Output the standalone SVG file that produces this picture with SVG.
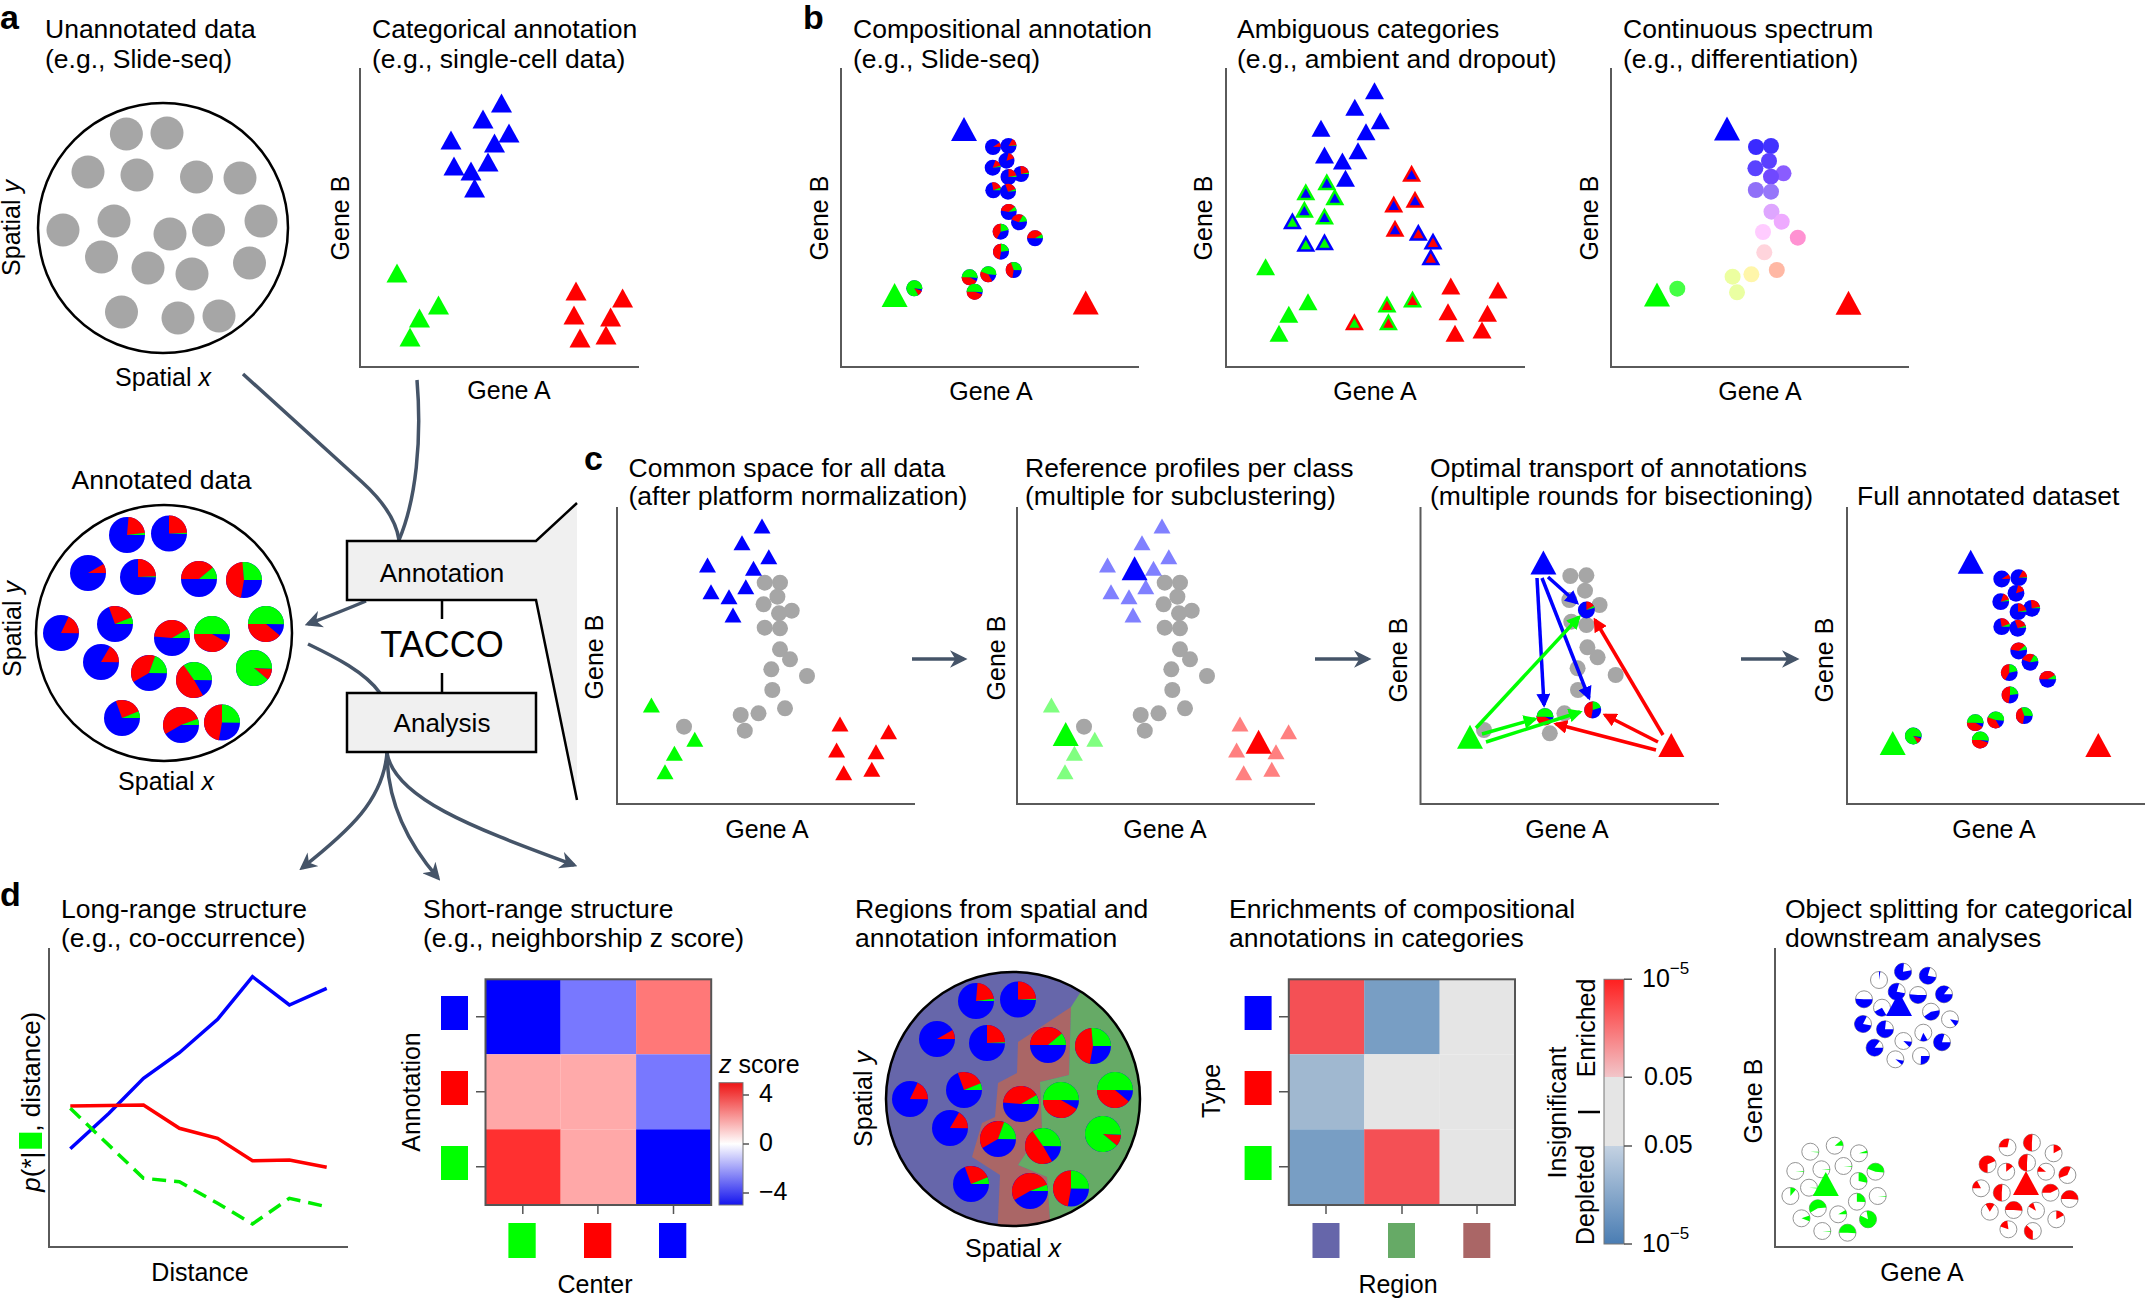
<svg xmlns="http://www.w3.org/2000/svg" xmlns:xlink="http://www.w3.org/1999/xlink" width="2145" height="1299" viewBox="0 0 2145 1299">
<style>
text{font-family:"Liberation Sans",Arial,sans-serif;fill:#000}
.t{font-size:26.5px}
.ax{font-size:25px}
.lbl{font-size:34px;font-weight:bold}
.axis{stroke:#5a5a5a;stroke-width:2;fill:none}
.B{fill:#0000ff}.R{fill:#ff0000}.G{fill:#00ff00}.gr{fill:#a6a6a6}
.wr{fill:none;stroke:#ff0000;stroke-width:10}
.wg{fill:none;stroke:#00ff00;stroke-width:10}
.wb{fill:none;stroke:#0000ff;stroke-width:10}
.wp{fill:#fff;stroke:#8c8c8c;stroke-width:1.1}
.con{fill:none;stroke:#455468;stroke-width:3.5}
.box{fill:#f0f0f0;stroke:#000;stroke-width:2.5}
.ol{fill:none;stroke:#000;stroke-width:2.5}
.tick{stroke:#555;stroke-width:1.5}
</style>
<defs>
<path id="t" d="M0,-9.5 L10.5,9.5 L-10.5,9.5 Z"/>
<path id="tm" d="M0,-8.5 L9.5,8.5 L-9.5,8.5 Z"/>
<path id="ti" d="M0,-3.4 L5.2,5.95 L-5.2,5.95 Z"/>
<path id="ts" d="M0,-7.5 L8.5,7.5 L-8.5,7.5 Z"/>
<path id="T" d="M0,-12 L13,12 L-13,12 Z"/>
<marker id="ah" viewBox="0 0 10 10" refX="8" refY="5" markerWidth="5" markerHeight="5" orient="auto" markerUnits="strokeWidth"><path d="M0,0 L10,5 L0,10 L3,5 Z" fill="#455468"/></marker>
<marker id="mb" viewBox="0 0 10 10" refX="8" refY="5" markerWidth="4" markerHeight="4" orient="auto" markerUnits="strokeWidth"><path d="M0,0 L10,5 L0,10 Z" fill="#0000ff"/></marker>
<marker id="mr" viewBox="0 0 10 10" refX="8" refY="5" markerWidth="4" markerHeight="4" orient="auto" markerUnits="strokeWidth"><path d="M0,0 L10,5 L0,10 Z" fill="#ff0000"/></marker>
<marker id="mg" viewBox="0 0 10 10" refX="8" refY="5" markerWidth="4" markerHeight="4" orient="auto" markerUnits="strokeWidth"><path d="M0,0 L10,5 L0,10 Z" fill="#00ff00"/></marker>
<linearGradient id="bwr" x1="0" y1="0" x2="0" y2="1"><stop offset="0" stop-color="#ee1414"/><stop offset="0.5" stop-color="#ffffff"/><stop offset="1" stop-color="#1414ee"/></linearGradient>
<linearGradient id="enr" x1="0" y1="0" x2="0" y2="1"><stop offset="0" stop-color="#ff1f1f"/><stop offset="0.37" stop-color="#f2c6ca"/><stop offset="0.37" stop-color="#e5e5e5"/><stop offset="0.63" stop-color="#e5e5e5"/><stop offset="0.63" stop-color="#c4d2e2"/><stop offset="1" stop-color="#4a7db3"/></linearGradient>
<clipPath id="regclip"><circle cx="1013" cy="1099" r="127"/></clipPath>
<g id="annPies">
<g transform="translate(-37,-98) scale(1.8)"><circle class="B" r="10"/><circle class="wr" r="5" stroke-dasharray="6.81 40" transform="rotate(-85)"/><circle class="wg" r="5" stroke-dasharray="0.61 40" transform="rotate(-7)"/></g>
<g transform="translate(5,-99.5) scale(1.8)"><circle class="B" r="10"/><circle class="wr" r="5" stroke-dasharray="7.68 40" transform="rotate(-90)"/><circle class="wg" r="5" stroke-dasharray="0.35 40" transform="rotate(-2)"/></g>
<g transform="translate(-76,-60) scale(1.8)"><circle class="B" r="10"/><circle class="wr" r="5" stroke-dasharray="2.62 40" transform="rotate(-30)"/></g>
<g transform="translate(-26,-56) scale(1.8)"><circle class="B" r="10"/><circle class="wr" r="5" stroke-dasharray="7.68 40" transform="rotate(-90)"/><circle class="wg" r="5" stroke-dasharray="0.26 40" transform="rotate(-2)"/></g>
<g transform="translate(35,-54) scale(1.8)"><circle class="B" r="10"/><circle class="wr" r="5" stroke-dasharray="12.22 40" transform="rotate(180)"/><circle class="wg" r="5" stroke-dasharray="3.49 40" transform="rotate(-40)"/></g>
<g transform="translate(80,-53) scale(1.8)"><circle class="B" r="10"/><circle class="wr" r="5" stroke-dasharray="14.4 40" transform="rotate(100)"/><circle class="wg" r="5" stroke-dasharray="8.29 40" transform="rotate(265)"/></g>
<g transform="translate(-103,0) scale(1.8)"><circle class="B" r="10"/><circle class="wr" r="5" stroke-dasharray="5.67 40" transform="rotate(-65)"/></g>
<g transform="translate(-49,-9) scale(1.8)"><circle class="B" r="10"/><circle class="wr" r="5" stroke-dasharray="7.68 40" transform="rotate(-110)"/><circle class="wg" r="5" stroke-dasharray="1.92 40" transform="rotate(-22)"/></g>
<g transform="translate(8,5) scale(1.8)"><circle class="B" r="10"/><circle class="wr" r="5" stroke-dasharray="12.65 40" transform="rotate(185)"/><circle class="wg" r="5" stroke-dasharray="2.62 40" transform="rotate(-30)"/></g>
<g transform="translate(48,1) scale(1.8)"><circle class="B" r="10"/><circle class="wr" r="5" stroke-dasharray="13.09 40" transform="rotate(30)"/><circle class="wg" r="5" stroke-dasharray="15.71 40" transform="rotate(180)"/></g>
<g transform="translate(102,-9) scale(1.8)"><circle class="B" r="10"/><circle class="wr" r="5" stroke-dasharray="12.22 40" transform="rotate(40)"/><circle class="wg" r="5" stroke-dasharray="15.71 40" transform="rotate(180)"/></g>
<g transform="translate(-63,29) scale(1.8)"><circle class="B" r="10"/><circle class="wr" r="5" stroke-dasharray="5.24 40" transform="rotate(-60)"/></g>
<g transform="translate(-15,40) scale(1.8)"><circle class="B" r="10"/><circle class="wr" r="5" stroke-dasharray="12.22 40" transform="rotate(150)"/><circle class="wg" r="5" stroke-dasharray="6.11 40" transform="rotate(290)"/></g>
<g transform="translate(30,47) scale(1.8)"><circle class="B" r="10"/><circle class="wr" r="5" stroke-dasharray="15.27 40" transform="rotate(60)"/><circle class="wg" r="5" stroke-dasharray="10.91 40" transform="rotate(235)"/></g>
<g transform="translate(90,35) scale(1.8)"><circle class="B" r="10"/><circle class="wr" r="5" stroke-dasharray="3.23 40" transform="rotate(3)"/><circle class="wg" r="5" stroke-dasharray="27.93 40" transform="rotate(40)"/></g>
<g transform="translate(-42,85) scale(1.8)"><circle class="B" r="10"/><circle class="wr" r="5" stroke-dasharray="7.68 40" transform="rotate(-110)"/><circle class="wg" r="5" stroke-dasharray="1.92 40" transform="rotate(-22)"/></g>
<g transform="translate(17,92) scale(1.8)"><circle class="B" r="10"/><circle class="wr" r="5" stroke-dasharray="16.58 40" transform="rotate(150)"/><circle class="wg" r="5" stroke-dasharray="1.75 40" transform="rotate(340)"/></g>
<g transform="translate(58,89.5) scale(1.8)"><circle class="B" r="10"/><circle class="wr" r="5" stroke-dasharray="14.84 40" transform="rotate(100)"/><circle class="wg" r="5" stroke-dasharray="7.85 40" transform="rotate(270)"/></g>
</g>
<g id="cp1"><circle class="B" r="10"/><circle class="wr" r="5" stroke-dasharray="2.88 40" transform="rotate(-35)"/></g>
<g id="cp2"><circle class="B" r="10"/><circle class="wr" r="5" stroke-dasharray="4.8 40" transform="rotate(-60)"/><circle class="wg" r="5" stroke-dasharray="0.44 40" transform="rotate(-5)"/></g>
<g id="cp3"><circle class="B" r="10"/><circle class="wr" r="5" stroke-dasharray="4.8 40" transform="rotate(-75)"/></g>
<g id="cp4"><circle class="B" r="10"/><circle class="wr" r="5" stroke-dasharray="4.8 40" transform="rotate(-70)"/><circle class="wg" r="5" stroke-dasharray="0.87 40" transform="rotate(-15)"/></g>
<g id="cp5"><circle class="B" r="10"/><circle class="wr" r="5" stroke-dasharray="7.42 40" transform="rotate(-95)"/><circle class="wg" r="5" stroke-dasharray="0.87 40" transform="rotate(-10)"/></g>
<g id="cp6"><circle class="B" r="10"/><circle class="wr" r="5" stroke-dasharray="6.98 40" transform="rotate(-90)"/><circle class="wg" r="5" stroke-dasharray="0.87 40" transform="rotate(-10)"/></g>
<g id="cp7"><circle class="B" r="10"/><circle class="wr" r="5" stroke-dasharray="6.98 40" transform="rotate(-100)"/><circle class="wg" r="5" stroke-dasharray="1.75 40" transform="rotate(-20)"/></g>
<g id="cp8"><circle class="B" r="10"/><circle class="wr" r="5" stroke-dasharray="7.85 40" transform="rotate(-110)"/><circle class="wg" r="5" stroke-dasharray="1.31 40" transform="rotate(-20)"/></g>
<g id="cp9"><circle class="B" r="10"/><circle class="wr" r="5" stroke-dasharray="11.35 40" transform="rotate(190)"/><circle class="wg" r="5" stroke-dasharray="2.62 40" transform="rotate(-40)"/></g>
<g id="cp10"><circle class="B" r="10"/><circle class="wr" r="5" stroke-dasharray="8.73 40" transform="rotate(200)"/><circle class="wg" r="5" stroke-dasharray="4.36 40" transform="rotate(-60)"/></g>
<g id="cp11"><circle class="B" r="10"/><circle class="wr" r="5" stroke-dasharray="13.09 40" transform="rotate(120)"/><circle class="wg" r="5" stroke-dasharray="6.55 40" transform="rotate(-90)"/></g>
<g id="cp12"><circle class="B" r="10"/><circle class="wr" r="5" stroke-dasharray="13.09 40" transform="rotate(180)"/><circle class="wg" r="5" stroke-dasharray="2.62 40" transform="rotate(-30)"/></g>
<g id="cp13"><circle class="B" r="10"/><circle class="wr" r="5" stroke-dasharray="14.84 40" transform="rotate(100)"/><circle class="wg" r="5" stroke-dasharray="6.98 40" transform="rotate(-90)"/></g>
<g id="cp14"><circle class="B" r="10"/><circle class="wr" r="5" stroke-dasharray="13.09 40" transform="rotate(100)"/><circle class="wg" r="5" stroke-dasharray="9.6 40" transform="rotate(-110)"/></g>
<g id="cp15"><circle class="B" r="10"/><circle class="wr" r="5" stroke-dasharray="13.09 40" transform="rotate(30)"/><circle class="wg" r="5" stroke-dasharray="15.71 40" transform="rotate(180)"/></g>
<g id="cp16"><circle class="B" r="10"/><circle class="wr" r="5" stroke-dasharray="12.22 40" transform="rotate(60)"/><circle class="wg" r="5" stroke-dasharray="13.96 40" transform="rotate(200)"/></g>
<g id="cp17"><circle class="B" r="10"/><circle class="wr" r="5" stroke-dasharray="13.96 40" transform="rotate(20)"/><circle class="wg" r="5" stroke-dasharray="15.71 40" transform="rotate(180)"/></g>
<g id="cp18"><circle class="B" r="10"/><circle class="wr" r="5" stroke-dasharray="3.49 40" transform="rotate(20)"/><circle class="wg" r="5" stroke-dasharray="26.18 40" transform="rotate(60)"/></g>
<g id="gd" class="gr">
<circle cx="764.7" cy="582.7" r="8"/><circle cx="780" cy="582.7" r="8"/><circle cx="777.4" cy="596.7" r="8"/><circle cx="763.6" cy="604.3" r="8"/><circle cx="791.7" cy="610.7" r="8"/><circle cx="779" cy="613.3" r="8"/><circle cx="764.7" cy="627.7" r="8"/><circle cx="780" cy="628.3" r="8"/><circle cx="780" cy="649.3" r="8"/><circle cx="790" cy="659.3" r="8"/><circle cx="771.3" cy="669.3" r="8"/><circle cx="807" cy="676" r="8"/><circle cx="772.3" cy="690" r="8"/><circle cx="785" cy="708.3" r="8"/><circle cx="758.5" cy="713.3" r="8"/><circle cx="740.7" cy="715" r="8"/><circle cx="744.8" cy="730.7" r="8"/><circle cx="684" cy="726.7" r="8"/>
</g>
<g id="c1t">
<g class="B"><use href="#ts" x="762" y="526"/><use href="#ts" x="742" y="542.7"/><use href="#ts" x="768.8" y="556.7"/><use href="#ts" x="707.5" y="565"/><use href="#ts" x="753.5" y="568.3"/><use href="#ts" x="711" y="591.7"/><use href="#ts" x="745.8" y="586.7"/><use href="#ts" x="729" y="596.7"/><use href="#ts" x="733" y="615"/></g>
<g class="G"><use href="#ts" x="651.4" y="705"/><use href="#ts" x="694.8" y="739.3"/><use href="#ts" x="674.4" y="753.3"/><use href="#ts" x="665" y="771.7"/></g>
<g class="R"><use href="#ts" x="840" y="724"/><use href="#ts" x="888.6" y="731.7"/><use href="#ts" x="836.6" y="750"/><use href="#ts" x="876" y="751.7"/><use href="#ts" x="843.7" y="772.7"/><use href="#ts" x="871.8" y="769.3"/></g>
</g>
</defs>
<rect width="2145" height="1299" fill="#fff"/>

<g id="connectors">
<path class="con" d="M243,374 L362,482 Q395,512 399,540"/>
<path class="con" d="M417,380 C422,440 416,500 399,540"/>
<path class="con" d="M366,601 Q340,612 308,624" marker-end="url(#ah)"/>
<path class="con" d="M308,644 C335,657 365,672 380,693"/>
<path class="con" d="M387,753 C383,800 350,830 302,868" marker-end="url(#ah)"/>
<path class="con" d="M387,753 C387,800 405,840 438,878" marker-end="url(#ah)"/>
<path class="con" d="M387,753 C395,800 480,830 574,865" marker-end="url(#ah)"/>
<path class="con" d="M912,659 L964,659" stroke-width="4" marker-end="url(#ah)"/>
<path class="con" d="M1315,659 L1368,659" stroke-width="4" marker-end="url(#ah)"/>
<path class="con" d="M1741,659 L1796,659" stroke-width="4" marker-end="url(#ah)"/>
</g>

<g id="panel-a-unannotated">
<text class="lbl" x="0" y="29">a</text>
<text class="t" x="45" y="38">Unannotated data</text>
<text class="t" x="45" y="68">(e.g., Slide-seq)</text>
<circle cx="163" cy="228" r="125" class="ol" fill="none"/>
<g class="gr">
<circle cx="126.4" cy="134" r="16.5"/><circle cx="167" cy="133" r="16.5"/><circle cx="88" cy="172" r="16.5"/><circle cx="137" cy="175" r="16.5"/><circle cx="196.5" cy="177" r="16.5"/><circle cx="240" cy="178" r="16.5"/><circle cx="63" cy="230" r="16.5"/><circle cx="114" cy="221" r="16.5"/><circle cx="170" cy="234" r="16.5"/><circle cx="208.5" cy="230" r="16.5"/><circle cx="261" cy="221" r="16.5"/><circle cx="101.5" cy="257" r="16.5"/><circle cx="148" cy="268" r="16.5"/><circle cx="192" cy="274" r="16.5"/><circle cx="249.5" cy="263" r="16.5"/><circle cx="121.5" cy="312" r="16.5"/><circle cx="178" cy="318" r="16.5"/><circle cx="219" cy="316" r="16.5"/>
</g>
<text class="ax" transform="translate(20,228) rotate(-90)" text-anchor="middle">Spatial <tspan font-style="italic">y</tspan></text>
<text class="ax" x="163" y="386" text-anchor="middle">Spatial <tspan font-style="italic">x</tspan></text>
</g>

<g id="panel-a-categorical">
<text class="t" x="372" y="38">Categorical annotation</text>
<text class="t" x="372" y="68">(e.g., single-cell data)</text>
<path class="axis" d="M360,68 V367 H639"/>
<text class="ax" transform="translate(349,218) rotate(-90)" text-anchor="middle">Gene B</text>
<text class="ax" x="509" y="399" text-anchor="middle">Gene A</text>
<g class="B"><use href="#t" x="501.5" y="103"/><use href="#t" x="483" y="119"/><use href="#t" x="509" y="133"/><use href="#t" x="451" y="140"/><use href="#t" x="494.5" y="143"/><use href="#t" x="454" y="166"/><use href="#t" x="488" y="162"/><use href="#t" x="471" y="171"/><use href="#t" x="474.6" y="188"/></g>
<g class="G"><use href="#t" x="397" y="273"/><use href="#t" x="438.5" y="305"/><use href="#t" x="419.5" y="318"/><use href="#t" x="410" y="337"/></g>
<g class="R"><use href="#t" x="576" y="291"/><use href="#t" x="622.6" y="298"/><use href="#t" x="574" y="315"/><use href="#t" x="610.6" y="317"/><use href="#t" x="580" y="338"/><use href="#t" x="606" y="335"/></g>
</g>

<g id="annotated-data">
<text class="t" x="161.5" y="489" text-anchor="middle">Annotated data</text>
<circle cx="164" cy="633" r="128" class="ol" fill="none"/>
<use href="#annPies" transform="translate(164,633)"/>
<text class="ax" transform="translate(21,629) rotate(-90)" text-anchor="middle">Spatial <tspan font-style="italic">y</tspan></text>
<text class="ax" x="166" y="790" text-anchor="middle">Spatial <tspan font-style="italic">x</tspan></text>
</g>

<g id="tacco-annotation">
<path d="M347,541 L536,541 L577,503 L577,800 L536,600 L347,600 Z" fill="#f0f0f0"/>
<path class="ol" d="M577,503 L536,541 L347,541 L347,600 L536,600 L577,800"/>
<text x="442" y="582" font-size="26" text-anchor="middle">Annotation</text>
</g>
<g id="tacco">
<line x1="442" y1="600" x2="442" y2="619" stroke="#000" stroke-width="2.5"/>
<text x="442" y="657" font-size="36" text-anchor="middle">TACCO</text>
<line x1="442" y1="673" x2="442" y2="693" stroke="#000" stroke-width="2.5"/>
</g>
<g id="tacco-analysis">
<rect class="box" x="347" y="693" width="189" height="59"/>
<text x="442" y="732" font-size="26" text-anchor="middle">Analysis</text>
</g>

<g id="panel-b-compositional">
<text class="lbl" x="803" y="29">b</text>
<text class="t" x="853" y="38">Compositional annotation</text>
<text class="t" x="853" y="68">(e.g., Slide-seq)</text>
<path class="axis" d="M841,68 V367 H1139"/>
<text class="ax" transform="translate(828,218) rotate(-90)" text-anchor="middle">Gene B</text>
<text class="ax" x="991" y="400" text-anchor="middle">Gene A</text>
<use href="#T" x="964" y="129" class="B"/><use href="#T" x="894.6" y="295" class="G"/><use href="#T" x="1085.7" y="302.5" class="R"/>
<use href="#cp1" transform="translate(993,147) scale(0.8)"/>
<use href="#cp2" transform="translate(1008.5,146) scale(0.8)"/>
<use href="#cp3" transform="translate(1006.5,160.7) scale(0.8)"/>
<use href="#cp4" transform="translate(992.7,167.7) scale(0.8)"/>
<use href="#cp5" transform="translate(1021,174) scale(0.8)"/>
<use href="#cp6" transform="translate(1008.5,177) scale(0.8)"/>
<use href="#cp7" transform="translate(993.3,190.3) scale(0.8)"/>
<use href="#cp8" transform="translate(1008,191.7) scale(0.8)"/>
<use href="#cp9" transform="translate(1008.7,212) scale(0.8)"/>
<use href="#cp10" transform="translate(1019,222.3) scale(0.8)"/>
<use href="#cp11" transform="translate(1000.7,231.7) scale(0.8)"/>
<use href="#cp12" transform="translate(1035,238.3) scale(0.8)"/>
<use href="#cp13" transform="translate(1001,251.7) scale(0.8)"/>
<use href="#cp14" transform="translate(1013.7,270) scale(0.8)"/>
<use href="#cp15" transform="translate(969.7,277.3) scale(0.8)"/>
<use href="#cp16" transform="translate(988.3,274.3) scale(0.8)"/>
<use href="#cp17" transform="translate(974.7,291.7) scale(0.8)"/>
<use href="#cp18" transform="translate(914.3,288.3) scale(0.8)"/>
</g>

<g id="panel-b-ambiguous">
<text class="t" x="1237" y="38">Ambiguous categories</text>
<text class="t" x="1237" y="68">(e.g., ambient and dropout)</text>
<path class="axis" d="M1226,68 V367 H1525"/>
<text class="ax" transform="translate(1212,218) rotate(-90)" text-anchor="middle">Gene B</text>
<text class="ax" x="1375" y="400" text-anchor="middle">Gene A</text>
<g class="B"><use href="#tm" x="1374.5" y="90.7"/><use href="#tm" x="1354.8" y="107.3"/><use href="#tm" x="1380.3" y="120.7"/><use href="#tm" x="1321" y="128.3"/><use href="#tm" x="1366" y="131.7"/><use href="#tm" x="1358" y="150.7"/><use href="#tm" x="1324.5" y="155"/><use href="#tm" x="1342.4" y="161"/><use href="#tm" x="1345.5" y="178.3"/></g>
<g class="G"><use href="#tm" x="1326.8" y="181.7"/><use href="#tm" x="1305.8" y="191.7"/><use href="#tm" x="1334.8" y="196.7"/><use href="#tm" x="1304.4" y="209.3"/><use href="#tm" x="1324.5" y="216"/></g>
<g class="B"><use href="#ti" x="1326.8" y="181.7"/><use href="#ti" x="1305.8" y="191.7"/><use href="#ti" x="1334.8" y="196.7"/><use href="#ti" x="1304.4" y="209.3"/><use href="#ti" x="1324.5" y="216"/></g>
<g class="B"><use href="#tm" x="1292.4" y="220.7"/><use href="#tm" x="1305.8" y="243.3"/><use href="#tm" x="1324.5" y="241.7"/></g>
<g class="G"><use href="#ti" x="1292.4" y="220.7"/><use href="#ti" x="1305.8" y="243.3"/><use href="#ti" x="1324.5" y="241.7"/></g>
<g class="R"><use href="#tm" x="1411.6" y="173.3"/><use href="#tm" x="1415" y="199.3"/><use href="#tm" x="1393.7" y="204"/><use href="#tm" x="1395" y="228.3"/></g>
<g class="B"><use href="#ti" x="1411.6" y="173.3"/><use href="#ti" x="1415" y="199.3"/><use href="#ti" x="1393.7" y="204"/><use href="#ti" x="1395" y="228.3"/></g>
<g class="B"><use href="#tm" x="1418.3" y="232.3"/><use href="#tm" x="1433" y="241"/><use href="#tm" x="1430.8" y="256.7"/></g>
<g class="R"><use href="#ti" x="1418.3" y="232.3"/><use href="#ti" x="1433" y="241"/><use href="#ti" x="1430.8" y="256.7"/></g>
<g class="G"><use href="#tm" x="1265.6" y="266.7"/><use href="#tm" x="1308" y="301.7"/><use href="#tm" x="1288.8" y="314.3"/><use href="#tm" x="1279" y="333.3"/></g>
<use href="#tm" x="1354.4" y="321.7" class="R"/><use href="#ti" x="1354.4" y="321.7" class="G"/>
<g class="G"><use href="#tm" x="1387" y="304"/><use href="#tm" x="1388.4" y="321.7"/><use href="#tm" x="1412.5" y="299"/></g>
<g class="R"><use href="#ti" x="1387" y="304"/><use href="#ti" x="1388.4" y="321.7"/><use href="#ti" x="1412.5" y="299"/></g>
<g class="R"><use href="#tm" x="1450.8" y="286"/><use href="#tm" x="1448" y="311.7"/><use href="#tm" x="1487.5" y="313.3"/><use href="#tm" x="1455" y="333.3"/><use href="#tm" x="1482" y="330"/><use href="#tm" x="1498" y="290"/></g>
</g>

<g id="panel-b-continuous">
<text class="t" x="1623" y="38">Continuous spectrum</text>
<text class="t" x="1623" y="68">(e.g., differentiation)</text>
<path class="axis" d="M1611,68 V367 H1909"/>
<text class="ax" transform="translate(1598,218) rotate(-90)" text-anchor="middle">Gene B</text>
<text class="ax" x="1760" y="400" text-anchor="middle">Gene A</text>
<use href="#T" x="1727" y="128.5" class="B"/><use href="#T" x="1657" y="294.5" class="G"/><use href="#T" x="1848.5" y="302.8" class="R"/>
<circle cx="1756" cy="147" r="8" fill="#3a2aff"/><circle cx="1771" cy="146" r="8" fill="#4232ff"/><circle cx="1769" cy="161" r="8" fill="#5a40ff"/><circle cx="1755.4" cy="168.3" r="8" fill="#5a42ff"/><circle cx="1783.5" cy="173.3" r="8" fill="#8a5cff"/><circle cx="1771" cy="176.7" r="8" fill="#7048ff"/><circle cx="1755.8" cy="190" r="8" fill="#9070f8"/><circle cx="1771" cy="191.7" r="8" fill="#9676fa"/><circle cx="1771.5" cy="211.7" r="8" fill="#dea6ff"/><circle cx="1781.7" cy="221.7" r="8" fill="#eeaaff"/><circle cx="1763" cy="232" r="8" fill="#ffccff"/><circle cx="1797.8" cy="237.7" r="8" fill="#ff92d2"/><circle cx="1764.3" cy="252.3" r="8" fill="#ffd4dc"/><circle cx="1776.8" cy="270" r="8" fill="#ffb8a4"/><circle cx="1732.6" cy="276.7" r="8" fill="#ecffa0"/><circle cx="1751.4" cy="274.3" r="8" fill="#fff6aa"/><circle cx="1737" cy="292.3" r="8" fill="#eaffa2"/><circle cx="1677.3" cy="288.7" r="8" fill="#44ff44"/>
</g>

<g id="panel-c-common">
<text class="lbl" x="584" y="470">c</text>
<text class="t" x="628.5" y="477">Common space for all data</text>
<text class="t" x="628.5" y="505">(after platform normalization)</text>
<path class="axis" d="M617,507 V804 H915"/>
<text class="ax" transform="translate(603,657) rotate(-90)" text-anchor="middle">Gene B</text>
<text class="ax" x="767" y="838" text-anchor="middle">Gene A</text>
<use href="#gd"/>
<use href="#c1t"/>
</g>

<g id="panel-c-reference">
<text class="t" x="1025" y="477">Reference profiles per class</text>
<text class="t" x="1025" y="505">(multiple for subclustering)</text>
<path class="axis" d="M1017,507 V804 H1315"/>
<text class="ax" transform="translate(1005,658) rotate(-90)" text-anchor="middle">Gene B</text>
<text class="ax" x="1165" y="838" text-anchor="middle">Gene A</text>
<use href="#gd" x="400"/>
<use href="#c1t" x="400" opacity="0.5"/>
<use href="#T" x="1134.6" y="568.3" class="B"/><use href="#T" x="1065.7" y="734" class="G"/><use href="#T" x="1258.6" y="741.7" class="R"/>
</g>

<g id="panel-c-transport">
<text class="t" x="1430" y="477">Optimal transport of annotations</text>
<text class="t" x="1430" y="505">(multiple rounds for bisectioning)</text>
<path class="axis" d="M1420.5,507 V804 H1719"/>
<text class="ax" transform="translate(1407,660) rotate(-90)" text-anchor="middle">Gene B</text>
<text class="ax" x="1567" y="838" text-anchor="middle">Gene A</text>
<g class="gr">
<circle cx="1570.3" cy="576" r="8"/><circle cx="1586.4" cy="575.3" r="8"/><circle cx="1585" cy="590.7" r="8"/><circle cx="1569.3" cy="600" r="8"/><circle cx="1599.6" cy="605" r="8"/><circle cx="1571.3" cy="621.7" r="8"/><circle cx="1586.4" cy="625" r="8"/><circle cx="1587.4" cy="647.3" r="8"/><circle cx="1597.6" cy="657.3" r="8"/><circle cx="1577.6" cy="668.3" r="8"/><circle cx="1615.7" cy="675" r="8"/><circle cx="1578" cy="690" r="8"/><circle cx="1564.4" cy="713.3" r="8"/><circle cx="1549.8" cy="733.3" r="8"/><circle cx="1484" cy="730" r="8"/>
</g>
<g transform="translate(1586.4,610) scale(0.85)"><circle class="B" r="10"/><circle class="wr" r="5" stroke-dasharray="5.24 40" transform="rotate(-90)"/><circle class="wg" r="5" stroke-dasharray="1.31 40" transform="rotate(-30)"/></g>
<g transform="translate(1545,716.7) scale(0.85)"><circle class="B" r="10"/><circle class="wr" r="5" stroke-dasharray="13.09 40" transform="rotate(30)"/><circle class="wg" r="5" stroke-dasharray="15.71 40" transform="rotate(180)"/></g>
<g transform="translate(1592.7,710) scale(0.85)"><circle class="B" r="10"/><circle class="wr" r="5" stroke-dasharray="14.84 40" transform="rotate(100)"/><circle class="wg" r="5" stroke-dasharray="6.11 40" transform="rotate(270)"/></g>
<g fill="none" stroke-width="3.5">
<path d="M1548,577 L1577,603" stroke="#0000ff" marker-end="url(#mb)"/>
<path d="M1537,578 L1544,705" stroke="#0000ff" marker-end="url(#mb)"/>
<path d="M1542,578 L1589,698" stroke="#0000ff" marker-end="url(#mb)"/>
<path d="M1476,728 L1579,617" stroke="#00ff00" marker-end="url(#mg)"/>
<path d="M1482,734 L1535,719" stroke="#00ff00" marker-end="url(#mg)"/>
<path d="M1486,742 L1580,712" stroke="#00ff00" marker-end="url(#mg)"/>
<path d="M1663,735 L1595,620" stroke="#ff0000" marker-end="url(#mr)"/>
<path d="M1658,742 L1605,715" stroke="#ff0000" marker-end="url(#mr)"/>
<path d="M1656,750 L1556,724" stroke="#ff0000" marker-end="url(#mr)"/>
</g>
<use href="#T" x="1543.4" y="562.5" class="B"/><use href="#T" x="1470" y="736.7" class="G"/><use href="#T" x="1671.3" y="745" class="R"/>
</g>

<g id="panel-c-full">
<text class="t" x="1857" y="505">Full annotated dataset</text>
<path class="axis" d="M1847,507 V804 H2145"/>
<text class="ax" transform="translate(1833,660) rotate(-90)" text-anchor="middle">Gene B</text>
<text class="ax" x="1994" y="838" text-anchor="middle">Gene A</text>
<use href="#T" x="1970.7" y="561.7" class="B"/><use href="#T" x="1892.7" y="743" class="G"/><use href="#T" x="2098.3" y="745" class="R"/>
<use href="#cp1" transform="translate(2001.7,579) scale(0.84)"/>
<use href="#cp2" transform="translate(2018.7,577.7) scale(0.84)"/>
<use href="#cp3" transform="translate(2016,593.3) scale(0.84)"/>
<use href="#cp4" transform="translate(2000.7,601.7) scale(0.84)"/>
<use href="#cp5" transform="translate(2031.7,608.3) scale(0.84)"/>
<use href="#cp6" transform="translate(2018,611.7) scale(0.84)"/>
<use href="#cp7" transform="translate(2001.7,626.7) scale(0.84)"/>
<use href="#cp8" transform="translate(2017.7,628.3) scale(0.84)"/>
<use href="#cp9" transform="translate(2018.7,651) scale(0.84)"/>
<use href="#cp10" transform="translate(2030,662.3) scale(0.84)"/>
<use href="#cp11" transform="translate(2009.3,672.7) scale(0.84)"/>
<use href="#cp12" transform="translate(2047.7,679.3) scale(0.84)"/>
<use href="#cp13" transform="translate(2010,695) scale(0.84)"/>
<use href="#cp14" transform="translate(2024.3,715.7) scale(0.84)"/>
<use href="#cp15" transform="translate(1975.3,722.7) scale(0.84)"/>
<use href="#cp16" transform="translate(1995.7,720) scale(0.84)"/>
<use href="#cp17" transform="translate(1980.3,740) scale(0.84)"/>
<use href="#cp18" transform="translate(1913.3,736) scale(0.84)"/>
</g>

<g id="panel-d-longrange">
<text class="lbl" x="0" y="906">d</text>
<text class="t" x="61" y="918">Long-range structure</text>
<text class="t" x="61" y="947">(e.g., co-occurrence)</text>
<path class="axis" d="M49,948 V1247 H348"/>
<g transform="translate(40,1191.7) rotate(-90)">
<text font-size="26" x="0" y="0"><tspan font-style="italic">p</tspan>(*|</text>
<rect x="43" y="-21" width="16" height="23" class="G"/>
<text font-size="26" x="60" y="0">, distance)</text>
</g>
<text class="ax" x="200" y="1281" text-anchor="middle">Distance</text>
<polyline fill="none" stroke="#0000ff" stroke-width="3.5" points="70.3,1148.7 109,1113.3 143.5,1078.3 179.4,1052.7 217.6,1019.3 252.5,976.7 289.4,1005 326.7,988.3"/>
<polyline fill="none" stroke="#ff0000" stroke-width="3.5" points="70.3,1106 143.5,1105 179.4,1128.3 217.6,1138.3 252.5,1160.7 289.4,1160 326.7,1167.3"/>
<polyline fill="none" stroke="#00ee00" stroke-width="3.5" stroke-dasharray="14 8" points="70.3,1108.3 143.5,1178.3 179.4,1181.7 217.6,1203.3 252.5,1224 289.4,1198.3 326.7,1206.7"/>
</g>

<g id="panel-d-shortrange">
<text class="t" x="423" y="918">Short-range structure</text>
<text class="t" x="423" y="947">(e.g., neighborship z score)</text>
<rect x="485.5" y="979.3" width="75.2" height="75" fill="#0000ff"/>
<rect x="560.6" y="979.3" width="75.6" height="75" fill="#7878ff"/>
<rect x="636.1" y="979.3" width="75.1" height="75" fill="#ff7878"/>
<rect x="485.5" y="1054.3" width="75.2" height="75" fill="#ffa8a8"/>
<rect x="560.6" y="1054.3" width="75.6" height="75" fill="#ffaaaa"/>
<rect x="636.1" y="1054.3" width="75.1" height="75" fill="#7878ff"/>
<rect x="485.5" y="1129.3" width="75.2" height="75.7" fill="#ff3030"/>
<rect x="560.6" y="1129.3" width="75.6" height="75.7" fill="#ffa8a8"/>
<rect x="636.1" y="1129.3" width="75.1" height="75.7" fill="#0000ff"/>
<rect x="485.5" y="979.3" width="225.7" height="225.7" fill="none" stroke="#555" stroke-width="2"/>
<path class="tick" d="M476,1016.7 H485.5 M476,1091.7 H485.5 M476,1166.7 H485.5 M522.8,1205 V1214 M597.9,1205 V1214 M673.5,1205 V1214"/>
<rect x="441" y="996" width="27" height="34" class="B"/><rect x="441" y="1071" width="27" height="34" class="R"/><rect x="441" y="1146" width="27" height="34" class="G"/>
<rect x="508.4" y="1223" width="27.3" height="35" class="G"/><rect x="584" y="1223" width="27.3" height="35" class="R"/><rect x="659" y="1223" width="27.3" height="35" class="B"/>
<text class="ax" transform="translate(420,1092) rotate(-90)" text-anchor="middle">Annotation</text>
<text class="ax" x="595" y="1293" text-anchor="middle">Center</text>
<text class="ax" x="719" y="1073"><tspan font-style="italic">z</tspan> score</text>
<rect x="719" y="1082.7" width="24" height="122.3" fill="url(#bwr)" stroke="#777" stroke-width="1"/>
<path class="tick" d="M743,1095 H749 M743,1144 H749 M743,1193 H749"/>
<text class="ax" x="759" y="1102">4</text>
<text class="ax" x="759" y="1151">0</text>
<text class="ax" x="759" y="1200">−4</text>
</g>

<g id="panel-d-regions">
<text class="t" x="855" y="918">Regions from spatial and</text>
<text class="t" x="855" y="947">annotation information</text>
<g clip-path="url(#regclip)">
<rect x="880" y="965" width="270" height="270" fill="#6666aa"/>
<polygon fill="#aa6666" points="1071,1007 1018,1042 1017,1073 998,1083 995,1117 982,1123 972,1157 1000,1175 997,1240 1050,1240 1050,1220 1047,1177 1018,1165 1042,1129 1040,1082 1069,1075"/>
<polygon fill="#66aa66" points="1080,960 1080,993 1071,1007 1069,1075 1040,1082 1042,1129 1018,1165 1047,1177 1050,1220 1050,1240 1160,1240 1160,960"/>
</g>
<circle cx="1013" cy="1099" r="127" class="ol"/>
<use href="#annPies" transform="translate(1013,1099)"/>
<text class="ax" transform="translate(872,1099) rotate(-90)" text-anchor="middle">Spatial <tspan font-style="italic">y</tspan></text>
<text class="ax" x="1013" y="1257" text-anchor="middle">Spatial <tspan font-style="italic">x</tspan></text>
</g>

<g id="panel-d-enrichment">
<text class="t" x="1229" y="918">Enrichments of compositional</text>
<text class="t" x="1229" y="947">annotations in categories</text>
<rect x="1288.8" y="979.3" width="75.6" height="75" fill="#f45055"/>
<rect x="1364.2" y="979.3" width="75.6" height="75" fill="#789ec4"/>
<rect x="1439.6" y="979.3" width="75.4" height="75" fill="#e5e5e5"/>
<rect x="1288.8" y="1054.3" width="75.6" height="75" fill="#a0b8d0"/>
<rect x="1364.2" y="1054.3" width="75.6" height="75" fill="#e5e5e5"/>
<rect x="1439.6" y="1054.3" width="75.4" height="75" fill="#e5e5e5"/>
<rect x="1288.8" y="1129.3" width="75.6" height="75.7" fill="#789ec4"/>
<rect x="1364.2" y="1129.3" width="75.6" height="75.7" fill="#f45055"/>
<rect x="1439.6" y="1129.3" width="75.4" height="75.7" fill="#e5e5e5"/>
<rect x="1288.8" y="979.3" width="226.2" height="225.7" fill="none" stroke="#555" stroke-width="2"/>
<path class="tick" d="M1279,1016.7 H1288.8 M1279,1091.7 H1288.8 M1279,1166.7 H1288.8 M1326,1205 V1214 M1402,1205 V1214 M1477,1205 V1214"/>
<rect x="1244.6" y="996" width="27" height="34" class="B"/><rect x="1244.6" y="1071" width="27" height="34" class="R"/><rect x="1244.6" y="1146" width="27" height="34" class="G"/>
<rect x="1312.5" y="1223" width="27" height="35" fill="#6666aa"/><rect x="1388" y="1223" width="27" height="35" fill="#66aa66"/><rect x="1463.3" y="1223" width="27" height="35" fill="#aa6666"/>
<text class="ax" transform="translate(1220,1091) rotate(-90)" text-anchor="middle">Type</text>
<text class="ax" x="1398" y="1293" text-anchor="middle">Region</text>
<rect x="1604" y="979.3" width="20" height="264.7" fill="url(#enr)" stroke="#777" stroke-width="1"/>
<path class="tick" d="M1624,979.3 H1632 M1624,1077.3 H1632 M1624,1146 H1632 M1624,1244 H1632"/>
<text class="ax" x="1642" y="987">10<tspan font-size="17" dy="-13">−5</tspan></text>
<text class="ax" x="1644" y="1085">0.05</text>
<text class="ax" x="1644" y="1153">0.05</text>
<text class="ax" x="1642" y="1252">10<tspan font-size="17" dy="-13">−5</tspan></text>
<text class="ax" transform="translate(1566,1112.5) rotate(-90)" text-anchor="middle">Insignificant</text>
<text class="ax" transform="translate(1595,1028) rotate(-90)" text-anchor="middle">Enriched</text>
<text class="ax" transform="translate(1594,1195) rotate(-90)" text-anchor="middle">Depleted</text>
<line x1="1578" y1="1112" x2="1600" y2="1112" stroke="#000" stroke-width="2.5"/>
</g>

<g id="panel-d-splitting">
<text class="t" x="1785" y="918">Object splitting for categorical</text>
<text class="t" x="1785" y="947">downstream analyses</text>
<path class="axis" d="M1775,948 V1247 H2073"/>
<text class="ax" transform="translate(1762,1101) rotate(-90)" text-anchor="middle">Gene B</text>
<text class="ax" x="1922" y="1281" text-anchor="middle">Gene A</text>
<g>
<g transform="translate(1879,980) scale(0.85)"><circle class="wp" r="10"/><circle class="wb" r="5" stroke-dasharray="0.87 40" transform="rotate(-90)"/></g>
<g transform="translate(1903,971.7) scale(0.85)"><circle class="wp" r="10"/><circle class="wb" r="5" stroke-dasharray="24.43 40" transform="rotate(-10)"/></g>
<g transform="translate(1927.8,975.7) scale(0.85)"><circle class="wp" r="10"/><circle class="wb" r="5" stroke-dasharray="23.56 40" transform="rotate(10)"/></g>
<g transform="translate(1864,999.3) scale(0.85)"><circle class="wp" r="10"/><circle class="wb" r="5" stroke-dasharray="15.71 40"/></g>
<g transform="translate(1896.7,991.7) scale(0.85)"><circle class="wp" r="10"/><circle class="wb" r="5" stroke-dasharray="23.56 40" transform="rotate(10)"/></g>
<g transform="translate(1918,995) scale(0.85)"><circle class="wp" r="10"/><circle class="wb" r="5" stroke-dasharray="15.71 40"/></g>
<g transform="translate(1944,994.3) scale(0.85)"><circle class="wp" r="10"/><circle class="wb" r="5" stroke-dasharray="26.18 40"/></g>
<g transform="translate(1882,1007.7) scale(0.85)"><circle class="wp" r="10"/><circle class="wb" r="5" stroke-dasharray="7.85 40" transform="rotate(60)"/></g>
<g transform="translate(1931,1011.7) scale(0.85)"><circle class="wp" r="10"/><circle class="wb" r="5" stroke-dasharray="13.09 40" transform="rotate(-10)"/></g>
<g transform="translate(1950,1019.3) scale(0.85)"><circle class="wp" r="10"/><circle class="wb" r="5" stroke-dasharray="3.49 40" transform="rotate(10)"/></g>
<g transform="translate(1863,1024) scale(0.85)"><circle class="wp" r="10"/><circle class="wb" r="5" stroke-dasharray="24.43 40" transform="rotate(10)"/></g>
<g transform="translate(1885,1029.3) scale(0.85)"><circle class="wp" r="10"/><circle class="wb" r="5" stroke-dasharray="23.56 40"/></g>
<g transform="translate(1903.4,1041) scale(0.85)"><circle class="wp" r="10"/><circle class="wb" r="5" stroke-dasharray="3.49 40" transform="rotate(5)"/></g>
<g transform="translate(1923.3,1032.7) scale(0.85)"><circle class="wp" r="10"/><circle class="wb" r="5" stroke-dasharray="4.36 40" transform="rotate(60)"/></g>
<g transform="translate(1942,1042.3) scale(0.85)"><circle class="wp" r="10"/><circle class="wb" r="5" stroke-dasharray="24.43 40"/></g>
<g transform="translate(1874.6,1047.7) scale(0.85)"><circle class="wp" r="10"/><circle class="wb" r="5" stroke-dasharray="26.18 40"/></g>
<g transform="translate(1895.4,1059.3) scale(0.85)"><circle class="wp" r="10"/><circle class="wb" r="5" stroke-dasharray="2.62 40" transform="rotate(10)"/></g>
<g transform="translate(1921,1056) scale(0.85)"><circle class="wp" r="10"/><circle class="wb" r="5" stroke-dasharray="7.85 40"/></g>
</g>
<use href="#T" x="1899" y="1004" class="B"/>
<g>
<g transform="translate(1810.3,1151.7) scale(0.85)"><circle class="wp" r="10"/><circle class="wg" r="5" stroke-dasharray="0.44 40"/></g>
<g transform="translate(1834.7,1145.7) scale(0.85)"><circle class="wp" r="10"/><circle class="wg" r="5" stroke-dasharray="3.49 40" transform="rotate(-40)"/></g>
<g transform="translate(1859,1153.3) scale(0.85)"><circle class="wp" r="10"/><circle class="wg" r="5" stroke-dasharray="1.75 40" transform="rotate(-20)"/></g>
<g transform="translate(1795.3,1171) scale(0.85)"><circle class="wp" r="10"/><circle class="wg" r="5" stroke-dasharray="0.44 40"/></g>
<g transform="translate(1821.4,1169.3) scale(0.85)"><circle class="wp" r="10"/><circle class="wg" r="5" stroke-dasharray="0.44 40"/></g>
<g transform="translate(1843.5,1166) scale(0.85)"><circle class="wp" r="10"/><circle class="wg" r="5" stroke-dasharray="0.44 40"/></g>
<g transform="translate(1875.5,1171.7) scale(0.85)"><circle class="wp" r="10"/><circle class="wg" r="5" stroke-dasharray="13.96 40" transform="rotate(200)"/></g>
<g transform="translate(1809,1187.7) scale(0.85)"><circle class="wp" r="10"/><circle class="wg" r="5" stroke-dasharray="0.44 40"/></g>
<g transform="translate(1858.6,1181) scale(0.85)"><circle class="wp" r="10"/><circle class="wg" r="5" stroke-dasharray="8.73 40" transform="rotate(-90)"/></g>
<g transform="translate(1790.4,1196) scale(0.85)"><circle class="wp" r="10"/><circle class="wg" r="5" stroke-dasharray="3.49 40" transform="rotate(-90)"/></g>
<g transform="translate(1877.7,1196) scale(0.85)"><circle class="wp" r="10"/><circle class="wg" r="5" stroke-dasharray="0.44 40"/></g>
<g transform="translate(1817.8,1208.3) scale(0.85)"><circle class="wp" r="10"/><circle class="wg" r="5" stroke-dasharray="17.45 40" transform="rotate(150)"/></g>
<g transform="translate(1856.9,1201.7) scale(0.85)"><circle class="wp" r="10"/><circle class="wg" r="5" stroke-dasharray="7.85 40" transform="rotate(270)"/></g>
<g transform="translate(1801.5,1218.3) scale(0.85)"><circle class="wp" r="10"/><circle class="wg" r="5" stroke-dasharray="3.49 40" transform="rotate(-20)"/></g>
<g transform="translate(1838.2,1214.3) scale(0.85)"><circle class="wp" r="10"/><circle class="wg" r="5" stroke-dasharray="2.62 40" transform="rotate(-30)"/></g>
<g transform="translate(1868,1219.3) scale(0.85)"><circle class="wp" r="10"/><circle class="wg" r="5" stroke-dasharray="26.18 40" transform="rotate(-100)"/></g>
<g transform="translate(1822.3,1231) scale(0.85)"><circle class="wp" r="10"/><circle class="wg" r="5" stroke-dasharray="0.44 40"/></g>
<g transform="translate(1847.5,1232.7) scale(0.85)"><circle class="wp" r="10"/><circle class="wg" r="5" stroke-dasharray="15.71 40" transform="rotate(180)"/></g>
</g>
<use href="#T" x="1825.8" y="1184" class="G"/>
<g>
<g transform="translate(2007.5,1147.3) scale(0.85)"><circle class="wp" r="10"/><circle class="wr" r="5" stroke-dasharray="8.73 40" transform="rotate(180)"/></g>
<g transform="translate(2031.9,1142.7) scale(0.85)"><circle class="wp" r="10"/><circle class="wr" r="5" stroke-dasharray="15.71 40" transform="rotate(90)"/></g>
<g transform="translate(2053.6,1153.3) scale(0.85)"><circle class="wp" r="10"/><circle class="wr" r="5" stroke-dasharray="5.24 40" transform="rotate(-90)"/></g>
<g transform="translate(1987.6,1164.3) scale(0.85)"><circle class="wp" r="10"/><circle class="wr" r="5" stroke-dasharray="20.94 40" transform="rotate(90)"/></g>
<g transform="translate(2006.2,1171.7) scale(0.85)"><circle class="wp" r="10"/><circle class="wr" r="5" stroke-dasharray="4.36 40" transform="rotate(-90)"/></g>
<g transform="translate(2027,1162.7) scale(0.85)"><circle class="wp" r="10"/><circle class="wr" r="5" stroke-dasharray="15.71 40" transform="rotate(90)"/></g>
<g transform="translate(2046,1171.7) scale(0.85)"><circle class="wp" r="10"/><circle class="wr" r="5" stroke-dasharray="3.49 40" transform="rotate(180)"/></g>
<g transform="translate(2067.4,1175) scale(0.85)"><circle class="wp" r="10"/><circle class="wr" r="5" stroke-dasharray="11.35 40" transform="rotate(160)"/></g>
<g transform="translate(1981,1188.3) scale(0.85)"><circle class="wp" r="10"/><circle class="wr" r="5" stroke-dasharray="5.24 40" transform="rotate(180)"/></g>
<g transform="translate(2001.8,1192.7) scale(0.85)"><circle class="wp" r="10"/><circle class="wr" r="5" stroke-dasharray="15.71 40" transform="rotate(90)"/></g>
<g transform="translate(2050.5,1192.7) scale(0.85)"><circle class="wp" r="10"/><circle class="wr" r="5" stroke-dasharray="13.09 40" transform="rotate(180)"/></g>
<g transform="translate(2069.6,1199) scale(0.85)"><circle class="wp" r="10"/><circle class="wr" r="5" stroke-dasharray="15.71 40" transform="rotate(180)"/></g>
<g transform="translate(1989.8,1211.7) scale(0.85)"><circle class="wp" r="10"/><circle class="wr" r="5" stroke-dasharray="5.24 40" transform="rotate(-120)"/></g>
<g transform="translate(2013.7,1210) scale(0.85)"><circle class="wp" r="10"/><circle class="wr" r="5" stroke-dasharray="15.71 40" transform="rotate(180)"/></g>
<g transform="translate(2036,1210.7) scale(0.85)"><circle class="wp" r="10"/><circle class="wr" r="5" stroke-dasharray="3.49 40" transform="rotate(-150)"/></g>
<g transform="translate(2056.3,1219.3) scale(0.85)"><circle class="wp" r="10"/><circle class="wr" r="5" stroke-dasharray="5.24 40" transform="rotate(-90)"/></g>
<g transform="translate(2008.4,1229.3) scale(0.85)"><circle class="wp" r="10"/><circle class="wr" r="5" stroke-dasharray="5.24 40" transform="rotate(200)"/></g>
<g transform="translate(2032.8,1231) scale(0.85)"><circle class="wp" r="10"/><circle class="wr" r="5" stroke-dasharray="11.35 40" transform="rotate(90)"/></g>
</g>
<use href="#T" x="2026" y="1183" class="R"/>
</g>
</svg>
